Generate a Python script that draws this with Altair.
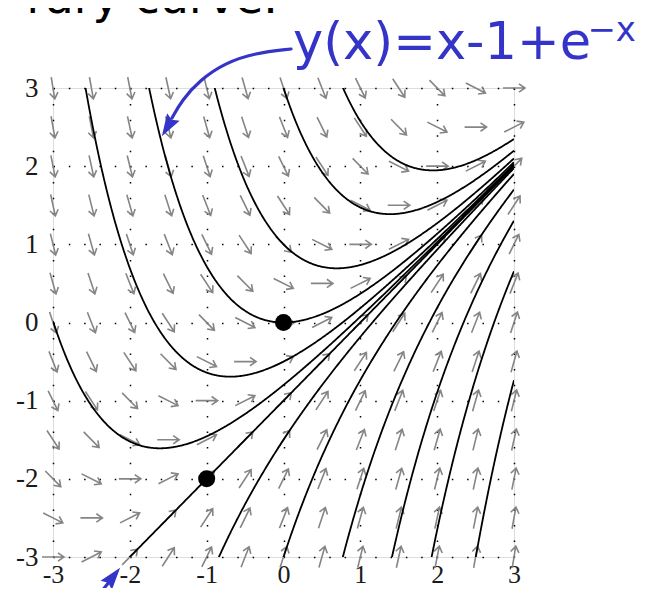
import numpy as np
import pandas as pd
import altair as alt

# ---- data ----
# solution curves y = x - 1 + C*exp(-x) of y' = x - y; constants C
curve_C = [7, 4, 2, 1, 0.5, 0.2, 0, -0.5, -2, -6, -14, -27, -55]
# marked points
dot_x = [0, -1]
dot_y = [0, -2]
# slope-field grid (every half unit)
field_x = [-3, -2.5, -2, -1.5, -1, -0.5, 0, 0.5, 1, 1.5, 2, 2.5, 3]
field_y = [-3, -2.5, -2, -1.5, -1, -0.5, 0, 0.5, 1, 1.5, 2, 2.5, 3]
tick_values = [-3, -2, -1, 0, 1, 2, 3]

# handwritten annotation (data units)
note_text = ["y(x)=x-1+e"]
note_sup = ["\u2212x"]
note_path_x = [0.098, -0.371, -0.761, -1.087, -1.321, -1.451]
note_path_y = [3.499, 3.448, 3.320, 3.102, 2.846, 2.616]
head_x = [-1.508, -2.217]
head_y = [2.507, -3.251]
head_angle = [210.8, 38.5]
low_arrow_x = [-2.518, -2.219]
low_arrow_y = [-3.627, -3.256]
top_text = ["rary curve."]

W, H = 461, 469
kx, ky = W / 6.0, H / 6.0

xs = alt.Scale(domain=[-3, 3], nice=False, zero=False)
ys = alt.Scale(domain=[-3, 3], nice=False, zero=False)

label_font = "Liberation Serif"

x_axis = alt.Axis(values=tick_values, grid=True, gridColor="#000", gridWidth=1.5,
                  gridDash=[1.5, 14.09], domain=False, ticks=False, tickSize=0,
                  labelFont=label_font, labelFontSize=26, labelColor="#1a1a1a",
                  labelBaseline="alphabetic", labelPadding=25,
                  labelExpr="toString(datum.value)", title=None,
                  labelFlush=False, labelOverlap=False)
y_axis = alt.Axis(values=tick_values, grid=True, gridColor="#000", gridWidth=1.5,
                  gridDash=[1.5, 13.82], domain=False, ticks=False, tickSize=0,
                  labelFont=label_font, labelFontSize=27, labelColor="#1a1a1a",
                  labelPadding=15, labelExpr="toString(datum.value)", title=None,
                  labelFlush=False, labelOverlap=False)

X = lambda: alt.X("x:Q", scale=xs)
Y = lambda: alt.Y("y:Q", scale=ys)

# slope field
rows = []
for fx in field_x:
    for fy in field_y:
        s = fx - fy
        ang = np.degrees(np.arctan2(-ky * s, kx)) % 360.0
        rows.append({"x": fx, "y": fy, "ang": float(ang)})
field_df = pd.DataFrame(rows)

arrow_shape = "M-1,0L1,0M0.45,-0.38L1,0L0.45,0.38"
arrows = alt.Chart(field_df).mark_point(
    shape=arrow_shape, size=484, filled=False, color="#858585", strokeWidth=1.6, opacity=1
).encode(
    x=alt.X("x:Q", scale=xs, axis=x_axis),
    y=alt.Y("y:Q", scale=ys, axis=y_axis),
    angle=alt.Angle("ang:Q", scale=None),
)

# solution curves
xx = np.linspace(-3, 3, 601)
crows = []
for c in curve_C:
    for i, xv in enumerate(xx):
        crows.append({"x": float(xv), "y": float(xv - 1 + c * np.exp(-xv)), "C": str(c), "i": i})
curve_df = pd.DataFrame(crows)
curves = alt.Chart(curve_df).mark_line(color="black", strokeWidth=1.8, clip=True).encode(
    x=X(), y=Y(), detail="C:N", order="i:Q",
)

dots = alt.Chart(pd.DataFrame({"x": dot_x, "y": dot_y})).mark_point(
    shape="circle", filled=True, size=290, color="black", opacity=1
).encode(x=X(), y=Y())

blue = "#3434c8"
path_df = pd.DataFrame({"x": note_path_x, "y": note_path_y, "i": list(range(len(note_path_x)))})
note_path = alt.Chart(path_df).mark_line(
    color=blue, strokeWidth=3.2, interpolate="basis", strokeCap="round"
).encode(x=X(), y=Y(), order="i:Q")

low_df = pd.DataFrame({"x": low_arrow_x, "y": low_arrow_y, "i": [0, 1]})
low_path = alt.Chart(low_df).mark_line(color=blue, strokeWidth=3.2, strokeCap="round").encode(
    x=X(), y=Y(), order="i:Q")

heads = alt.Chart(pd.DataFrame({"x": head_x, "y": head_y, "a": head_angle})).mark_point(
    shape="M0,-1L0.65,1L0,0.7L-0.65,1Z", filled=True, size=500, color=blue, opacity=1
).encode(x=X(), y=Y(), angle=alt.Angle("a:Q", scale=None))

main_txt = alt.Chart(pd.DataFrame({"x": [0.124], "y": [3.37], "t": note_text})).mark_text(
    font="DejaVu Sans", fontSize=51, color=blue, align="left", baseline="alphabetic"
).encode(x=X(), y=Y(), text="t:N")

sup_txt = alt.Chart(pd.DataFrame({"x": [3.955], "y": [3.60], "t": note_sup})).mark_text(
    font="DejaVu Sans", fontSize=34, color=blue, align="left", baseline="alphabetic"
).encode(x=X(), y=Y(), text="t:N")

top_txt = alt.Chart(pd.DataFrame({"x": [-0.072], "y": [3.96], "t": top_text})).mark_text(
    font="DejaVu Sans", fontSize=46, color="black", align="right", baseline="alphabetic"
).encode(x=X(), y=Y(), text="t:N")

chart = alt.layer(arrows, curves, dots, note_path, low_path, heads, main_txt, sup_txt, top_txt).properties(
    width=W, height=H,
    padding={"left": 45, "top": 80, "right": 132, "bottom": 31},
    autosize=alt.AutoSizeParams(type="none"),
).configure_view(stroke=None).configure(background="white")

chart.save("out.html", embed_options={"renderer": "svg", "actions": False})
